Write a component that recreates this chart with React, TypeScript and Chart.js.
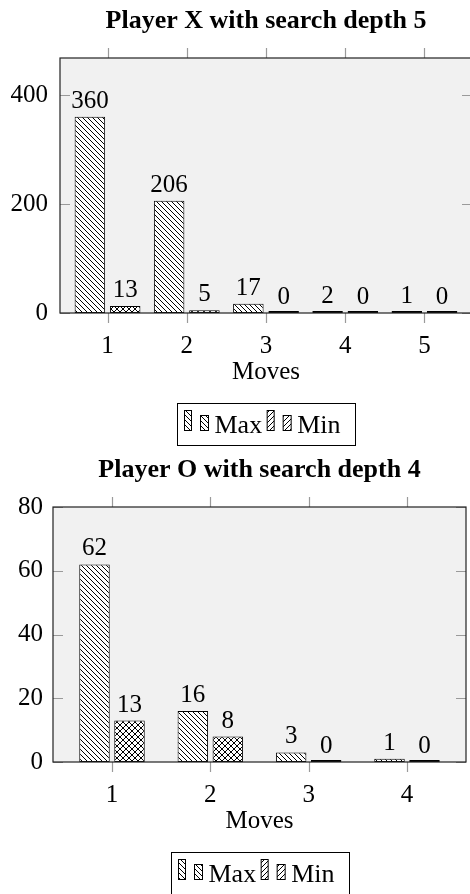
import React, { useEffect, useRef } from "react";
import { Chart, registerables } from "chart.js";

Chart.register(...registerables);

const SERIF = "'Liberation Serif', 'Times New Roman', serif";

// ---- Player X (search depth 5)
const movesX = [1, 2, 3, 4, 5];
const maxCallsX = [360, 206, 17, 2, 1];
const minCallsX = [13, 5, 0, 0, 0];
const yTicksX = [0, 200, 400];
const yLimitX = 468;

// ---- Player O (search depth 4)
const movesO = [1, 2, 3, 4];
const maxCallsO = [62, 16, 3, 1];
const minCallsO = [13, 8, 0, 0];
const yTicksO = [0, 20, 40, 60, 80];
const yLimitO = 80;

const seriesLabels = ["Max", "Min"];
const xAxisLabel = "Moves";
const titleX = "Player X with search depth 5";
const titleO = "Player O with search depth 4";

type Panel = {
  title: string;
  moves: number[];
  maxVals: number[];
  minVals: number[];
  yTicks: number[];
  yLimit: number;
  top: number;
  width: number;
  height: number;
  plotLeft: number;
  plotRight: number;
  catPct: number;
  barPct: number;
  yPad: number;
};

function makePattern(ctx: CanvasRenderingContext2D, kind: string, size: number) {
  const c = document.createElement("canvas");
  c.width = size;
  c.height = size;
  const g = c.getContext("2d")!;
  g.fillStyle = "#ffffff";
  g.fillRect(0, 0, size, size);
  g.strokeStyle = "#000000";
  g.lineWidth = 1;
  g.beginPath();
  if (kind === "nw" || kind === "cross") {
    g.moveTo(-1, -1);
    g.lineTo(size + 1, size + 1);
    g.moveTo(-1, size - 1);
    g.lineTo(1, size + 1);
    g.moveTo(size - 1, -1);
    g.lineTo(size + 1, 1);
  }
  if (kind === "ne" || kind === "cross") {
    g.moveTo(-1, size + 1);
    g.lineTo(size + 1, -1);
    g.moveTo(-1, 1);
    g.lineTo(1, -1);
    g.moveTo(size - 1, size + 1);
    g.lineTo(size + 1, size - 1);
  }
  g.stroke();
  return ctx.createPattern(c, "repeat")!;
}

function ChartPanel({ p }: { p: Panel }) {
  const ref = useRef<HTMLCanvasElement>(null);
  useEffect(() => {
    const canvas = ref.current!;
    const ctx = canvas.getContext("2d")!;
    const patNW = makePattern(ctx, "nw", 5);
    const patNE = makePattern(ctx, "ne", 5);
    const patCross = makePattern(ctx, "cross", 6);
    const font = { family: SERIF, size: 25 };

    const framePlugin = {
      id: "frame",
      beforeDraw(chart: any) {
        const a = chart.chartArea;
        const c = chart.ctx;
        c.save();
        c.fillStyle = "#f1f1f1";
        c.fillRect(a.left, a.top, a.right - a.left, a.bottom - a.top);
        c.restore();
      },
      afterDatasetsDraw(chart: any) {
        const a = chart.chartArea;
        const c = chart.ctx;
        const xs = chart.scales.x;
        const ys = chart.scales.y;
        c.save();
        c.strokeStyle = "#9a9a9a";
        c.lineWidth = 1.2;
        c.beginPath();
        p.yTicks.forEach((v) => {
          const py = Math.round(ys.getPixelForValue(v)) + 0.5;
          c.moveTo(a.left, py);
          c.lineTo(a.left + 10, py);
          c.moveTo(a.right - 10, py);
          c.lineTo(a.right, py);
        });
        p.moves.forEach((v) => {
          const px = Math.round(xs.getPixelForValue(v)) + 0.5;
          c.moveTo(px, a.top - 10);
          c.lineTo(px, a.top);
          c.moveTo(px, a.bottom);
          c.lineTo(px, a.bottom + 10);
        });
        c.stroke();
        c.strokeStyle = "#222";
        c.lineWidth = 1.2;
        c.strokeRect(a.left, a.top, a.right - a.left, a.bottom - a.top);
        // value labels
        c.fillStyle = "#000";
        c.font = `25px ${SERIF}`;
        c.textAlign = "center";
        c.textBaseline = "alphabetic";
        chart.data.datasets.forEach((ds: any, i: number) => {
          const meta = chart.getDatasetMeta(i);
          meta.data.forEach((el: any, j: number) => {
            const v = ds.data[j].y;
            const py = ys.getPixelForValue(v);
            c.fillText(String(v), el.x, py - 9);
          });
        });
        c.restore();
      },
      afterDraw(chart: any) {
        const a = chart.chartArea;
        const c = chart.ctx;
        const boxW = 178;
        const boxH = 42;
        const bx = Math.round((a.left + a.right) / 2 - boxW / 2) + 0.5;
        const by = Math.round(a.bottom + 90) + 0.5;
        c.save();
        c.fillStyle = "#fff";
        c.fillRect(bx, by, boxW, boxH);
        c.strokeStyle = "#000";
        c.lineWidth = 1;
        c.strokeRect(bx, by, boxW, boxH);
        c.font = `26px ${SERIF}`;
        c.textAlign = "left";
        c.textBaseline = "alphabetic";
        let x = bx + 7;
        const bottom = by + 27;
        seriesLabels.forEach((lab, i) => {
          const pat = i === 0 ? patNW : patNE;
          const sw = (sx: number, w: number, h: number) => {
            c.fillStyle = pat;
            c.fillRect(sx, bottom - h, w, h);
            c.strokeStyle = "#000";
            c.lineWidth = 1;
            c.strokeRect(sx, bottom - h, w, h);
          };
          sw(x, 7, 20);
          sw(x + 16, 8, 15);
          c.fillStyle = "#000";
          c.fillText(lab, x + 30, by + 29);
          x += 30 + c.measureText(lab).width + 5;
        });
        c.restore();
      },
    };

    const chart = new Chart(canvas, {
      type: "bar",
      data: {
        datasets: [
          {
            label: seriesLabels[0],
            data: p.moves.map((m, i) => ({ x: m, y: p.maxVals[i] })),
            backgroundColor: patNW,
            borderColor: "#000",
            borderWidth: 1,
            borderSkipped: false,
            minBarLength: 2,
            categoryPercentage: p.catPct,
            barPercentage: p.barPct,
          },
          {
            label: seriesLabels[1],
            data: p.moves.map((m, i) => ({ x: m, y: p.minVals[i] })),
            backgroundColor: patCross,
            borderColor: "#000",
            borderWidth: 1,
            borderSkipped: false,
            minBarLength: 2,
            categoryPercentage: p.catPct,
            barPercentage: p.barPct,
          },
        ] as any,
      },
      options: {
        animation: false,
        responsive: false,
        layout: {
          padding: { left: 0, right: p.width - p.plotRight, top: 0, bottom: p.height - 313 - 74 },
        },
        plugins: {
          legend: { display: false },
          tooltip: { enabled: false },
          title: {
            display: true,
            text: p.title,
            fullSize: false,
            color: "#000",
            font: { family: SERIF, size: 26, weight: "bold", lineHeight: 1.2 },
            padding: { top: 6, bottom: 20.8 },
          },
        },
        scales: {
          x: {
            type: "linear",
            offset: false,
            min: p.moves[0] - 0.6,
            max: p.moves[p.moves.length - 1] + 0.6,
            grid: { display: false, drawTicks: false },
            border: { display: false },
            ticks: { font, color: "#000", padding: 18, callback: (v: any) => String(v) },
            afterBuildTicks: (s: any) => {
              s.ticks = p.moves.map((v) => ({ value: v }));
            },
            title: { display: true, text: xAxisLabel, font, color: "#000", padding: { top: 0, bottom: 0 } },
            afterFit: (s: any) => {
              s.height = 74;
            },
          },
          y: {
            min: 0,
            max: p.yLimit,
            grid: { display: false, drawTicks: false },
            border: { display: false },
            ticks: { font, color: "#000", padding: p.yPad, callback: (v: any) => String(v) },
            afterBuildTicks: (s: any) => {
              s.ticks = p.yTicks.map((v) => ({ value: v }));
            },
            afterFit: (s: any) => {
              s.width = p.plotLeft;
            },
          },
        } as any,
      },
      plugins: [framePlugin],
    });
    return () => chart.destroy();
  }, []);
  return (
    <canvas
      ref={ref}
      width={p.width}
      height={p.height}
      style={{ position: "absolute", left: 0, top: p.top, width: p.width, height: p.height }}
    />
  );
}

const panelX: Panel = {
  title: titleX,
  moves: movesX,
  maxVals: maxCallsX,
  minVals: minCallsX,
  yTicks: yTicksX,
  yLimit: yLimitX,
  top: 0,
  width: 490,
  height: 450,
  plotLeft: 60,
  plotRight: 472,
  catPct: 0.891,
  barPct: 0.864,
  yPad: 12,
};

const panelO: Panel = {
  title: titleO,
  moves: movesO,
  maxVals: maxCallsO,
  minVals: minCallsO,
  yTicks: yTicksO,
  yLimit: yLimitO,
  top: 449,
  width: 470,
  height: 445,
  plotLeft: 53,
  plotRight: 466,
  catPct: 0.712,
  barPct: 0.871,
  yPad: 10,
};

export default function App() {
  return (
    <div
      style={{
        position: "absolute",
        left: 0,
        top: 0,
        width: 470,
        height: 894,
        overflow: "hidden",
        background: "#fff",
      }}
    >
      <ChartPanel p={panelX} />
      <ChartPanel p={panelO} />
    </div>
  );
}
